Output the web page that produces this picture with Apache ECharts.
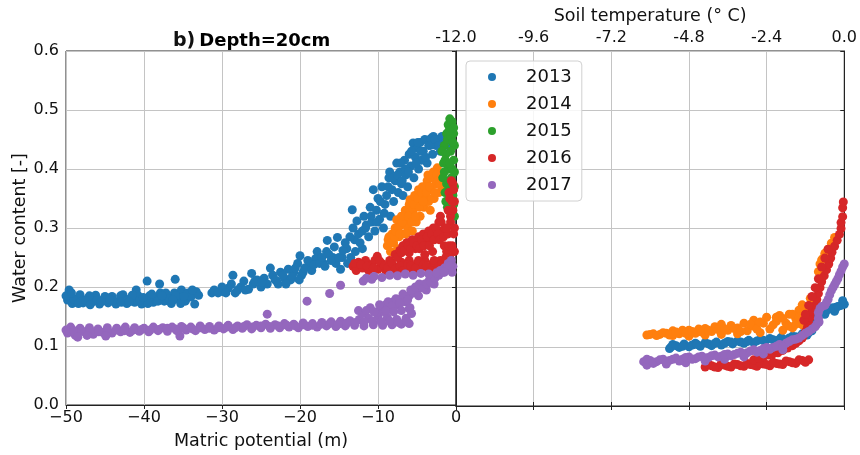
<!DOCTYPE html>
<html>
<head>
<meta charset="utf-8">
<script src="https://cdn.jsdelivr.net/npm/echarts@6/dist/echarts.min.js"></script>
<style>html,body{margin:0;padding:0;background:#fff}#c{width:860px;height:455px}</style>
</head>
<body>
<div id="c"></div>
<script>
const years = ['2013','2014','2015','2016','2017'];
const colors = ['#1f77b4','#ff7f0e','#2ca02c','#d62728','#9467bd'];
const mpTicks = [-50,-40,-30,-20,-10,0];
const stTicks = [-12.0,-9.6,-7.2,-4.8,-2.4,0.0];

// Left panel: matric potential (m) vs water content
const mp2013 = [[-49.8,0.178],[-49.5,0.186],[-49.6,0.195],[-49.2,0.172],[-48.6,0.18],[-48.2,0.187],[-47.8,0.173],[-47.2,0.181],[-46.6,0.175],[-46.2,0.186],[-45.7,0.171],[-45.2,0.179],[-44.6,0.173],[-44.1,0.184],[-43.6,0.171],[-43.1,0.178],[-42.7,0.187],[-42.2,0.172],[-41.7,0.18],[-41.2,0.174],[-41.0,0.195],[-40.8,0.186],[-40.3,0.171],[-39.8,0.179],[-39.6,0.21],[-39.3,0.185],[-38.8,0.174],[-38.4,0.182],[-38.0,0.205],[-37.9,0.19],[-37.4,0.176],[-37.0,0.184],[-36.5,0.172],[-36.0,0.213],[-36.1,0.19],[-35.6,0.18],[-35.2,0.195],[-34.7,0.176],[-34.4,0.19],[-34.0,0.183],[-33.5,0.171],[-33.3,0.192],[-33.0,0.186],
[-49.0,0.179],[-48.0,0.176],[-47.0,0.185],[-46.0,0.178],[-45.0,0.184],[-44.0,0.177],[-43.0,0.185],[-42.0,0.179],[-41.5,0.186],[-40.5,0.178],[-39.5,0.172],[-39.0,0.188],[-38.2,0.176],[-37.2,0.19],[-36.8,0.18],[-35.9,0.185],[-35.3,0.172],[-34.9,0.184],[-33.8,0.195],[-50.0,0.185],[-49.3,0.19],[-48.4,0.172],[-47.5,0.177],[-46.9,0.17],[-45.5,0.175],[-44.4,0.179],[-42.9,0.174],[-41.9,0.175],[-40.1,0.182],[-37.7,0.185],[-36.3,0.178],
[-31.3,0.19],[-31.0,0.195],[-29.8,0.192],[-29.2,0.198],[-28.8,0.205],[-28.6,0.22],[-28.3,0.19],[-27.6,0.2],[-27.2,0.21],[-26.6,0.196],[-26.2,0.223],[-26.0,0.205],[-25.5,0.212],[-25.0,0.2],[-24.6,0.215],[-24.2,0.205],[-23.8,0.232],[-23.5,0.22],[-23.0,0.21],[-22.5,0.225],[-22.0,0.215],[-21.5,0.23],[-21.2,0.212],[-20.8,0.225],[-20.3,0.24],[-20.0,0.253],[-19.8,0.22],
[-30.5,0.19],[-30.0,0.2],[-29.5,0.19],[-28.0,0.195],[-27.0,0.195],[-25.8,0.21],[-24.9,0.208],[-23.2,0.212],[-22.8,0.205],[-22.2,0.22],[-21.8,0.205],[-21.0,0.218],[-20.6,0.232],[-20.1,0.212],[-19.6,0.225],[-18.8,0.235],[-18.0,0.248],[-17.0,0.24],[-16.6,0.26],[-15.8,0.25],[-15.4,0.24],[-14.6,0.25],[-14.0,0.265],[-13.5,0.25],[-13.0,0.28],[-12.5,0.29],[-12.0,0.265],[-11.6,0.3],
[-19.4,0.232],[-19.0,0.245],[-18.5,0.228],[-18.2,0.238],[-17.8,0.26],[-17.5,0.24],[-17.2,0.25],[-16.8,0.235],[-16.5,0.279],[-16.3,0.255],[-16.0,0.245],[-15.6,0.268],[-15.2,0.284],[-15.0,0.25],[-14.8,0.23],[-14.5,0.262],[-14.2,0.275],[-13.9,0.24],[-13.6,0.285],[-13.3,0.331],[-13.2,0.30],[-12.9,0.26],[-12.7,0.312],
[-12.3,0.275],[-12.0,0.295],[-11.8,0.32],[-11.5,0.305],[-11.2,0.285],[-11.0,0.335],[-10.8,0.31],[-10.6,0.365],[-10.4,0.295],[-10.2,0.33],[-10.0,0.35],[-9.8,0.315],[-9.5,0.37],[-9.3,0.3],[-9.1,0.34],[-8.9,0.355],[-8.6,0.385],[-8.5,0.395],[-8.4,0.32],[-8.2,0.365],[-8.0,0.345],[-7.8,0.38],[-7.6,0.41],[-7.4,0.36],[-7.2,0.395],[-7.0,0.375],[-6.8,0.355],[-6.6,0.415],[-6.4,0.39],[-6.2,0.37],[-6.0,0.425],[-5.8,0.405],[-5.5,0.444],[-5.4,0.385],[-5.2,0.42],[-5.0,0.435],[-4.8,0.4],[-4.6,0.445],[-4.4,0.415],[-4.2,0.43],[-4.0,0.45],[-3.7,0.41],[-3.5,0.44],[-3.2,0.452],[-3.0,0.425],[-2.9,0.455],[-2.6,0.44],[-2.3,0.45],[-2.0,0.43],[-1.7,0.445],[-1.4,0.455],[-1.1,0.44],
[-10.9,0.32],[-10.1,0.31],[-9.7,0.345],[-9.2,0.325],[-8.7,0.37],[-8.1,0.385],[-7.5,0.39],[-7.1,0.41],[-6.9,0.38],[-6.5,0.4],[-6.1,0.395],[-5.7,0.43],[-5.1,0.41],[-4.9,0.445],[-4.5,0.43],[-3.9,0.42],[-3.3,0.44],[-2.7,0.45],[-2.2,0.44],[-1.8,0.455],[-1.3,0.445],[-0.9,0.45]];
const mp2014 = [[-8.8,0.27],[-8.6,0.285],[-8.4,0.26],[-8.2,0.29],[-8.0,0.275],[-7.8,0.3],[-7.6,0.314],[-7.5,0.265],[-7.3,0.285],[-7.1,0.305],[-7.0,0.32],[-6.8,0.29],[-6.6,0.31],[-6.5,0.33],[-6.3,0.275],[-6.2,0.3],[-6.0,0.34],[-5.9,0.348],[-5.8,0.32],[-5.6,0.295],[-5.5,0.33],[-5.3,0.355],[-5.1,0.31],[-5.0,0.34],[-4.8,0.365],[-4.6,0.32],[-4.5,0.35],[-4.3,0.37],[-4.1,0.335],[-3.9,0.355],[-3.7,0.38],[-3.5,0.345],[-3.3,0.33],[-3.2,0.365],[-3.0,0.385],[-2.8,0.35],[-2.6,0.375],[-2.4,0.402],[-2.2,0.36],[-2.0,0.39],[-1.8,0.37],[-1.7,0.38],
[-8.7,0.28],[-8.3,0.275],[-7.9,0.285],[-7.7,0.295],[-7.4,0.3],[-7.2,0.29],[-6.9,0.31],[-6.7,0.32],[-6.4,0.29],[-6.1,0.32],[-5.7,0.31],[-5.4,0.34],[-5.2,0.32],[-4.9,0.35],[-4.7,0.335],[-4.4,0.36],[-4.2,0.345],[-4.0,0.37],[-3.8,0.36],[-3.6,0.39],[-3.4,0.37],[-3.1,0.35],[-2.9,0.395],[-2.7,0.36],[-2.5,0.39],[-2.3,0.38],[-2.1,0.375],[-1.9,0.385]];
const mp2015 = [[-1.2,0.46],[-1.0,0.475],[-0.8,0.485],[-0.5,0.48],[-0.3,0.47],[-1.5,0.44],[-1.1,0.45],[-0.6,0.455],[-0.2,0.44],[-1.8,0.43],[-1.3,0.425],[-0.7,0.43],[-0.3,0.415],[-1.6,0.41],[-1.0,0.40],[-0.5,0.40],[-1.7,0.385],[-1.2,0.375],[-0.6,0.385],[-0.2,0.37],[-1.4,0.36],[-0.9,0.35],[-0.4,0.355],[-1.1,0.335],[-0.6,0.33],[-0.2,0.32],[-0.3,0.46],[-0.2,0.395],
[-0.9,0.465],[-0.4,0.445],[-1.4,0.415],[-0.8,0.41],[-1.5,0.395],[-0.9,0.37],[-0.3,0.34],[-1.3,0.345]];
const mp2016 = [[-13.2,0.235],[-12.8,0.228],[-12.5,0.242],[-12.0,0.232],[-11.6,0.245],[-11.2,0.228],[-10.8,0.238],[-10.4,0.245],[-10.1,0.252],[-10.0,0.23],[-9.5,0.24],[-9.0,0.228],[-8.5,0.245],[-8.0,0.235],[-7.5,0.225],[-7.0,0.242],[-6.5,0.232],[-6.0,0.245],[-5.5,0.228],[-5.0,0.24],[-4.5,0.232],[-4.0,0.245],[-3.5,0.23],[-3.0,0.24],[-2.5,0.228],[-2.0,0.245],[-1.5,0.235],[-1.0,0.24],
[-13.0,0.24],[-12.2,0.238],[-11.4,0.235],[-10.6,0.232],[-9.8,0.244],[-9.2,0.236],[-8.8,0.232],[-8.2,0.24],[-7.8,0.23],[-7.2,0.236],[-6.8,0.228],[-6.2,0.238],[-5.8,0.236],[-5.2,0.232],[-4.8,0.245],[-4.2,0.238],[-3.8,0.235],[-3.2,0.228],[-2.8,0.245],[-2.2,0.235],[-1.8,0.24],[-1.2,0.232],
[-7.8,0.255],[-7.2,0.262],[-6.8,0.27],[-6.3,0.275],[-6.0,0.258],[-5.6,0.28],[-5.2,0.265],[-4.8,0.285],[-4.5,0.27],[-4.2,0.29],[-3.8,0.275],[-3.5,0.295],[-3.2,0.28],[-2.9,0.3],[-2.5,0.285],[-2.2,0.31],[-2.0,0.32],[-1.8,0.295],[-1.5,0.27],[-1.2,0.26],[-4.0,0.255],[-3.0,0.26],
[-7.5,0.25],[-7.0,0.258],[-6.6,0.262],[-6.1,0.27],[-5.8,0.265],[-5.4,0.275],[-5.0,0.27],[-4.7,0.265],[-4.4,0.28],[-4.1,0.27],[-3.7,0.285],[-3.4,0.27],[-3.1,0.29],[-2.8,0.28],[-2.6,0.3],[-2.3,0.29],[-2.1,0.28],[-1.9,0.31],[-1.6,0.285],[-1.4,0.3],[-1.0,0.29],[-0.9,0.27],[-1.3,0.25],[-0.6,0.23],[-0.2,0.26],[-0.9,0.36],[-0.4,0.375],[-0.2,0.345],[-0.7,0.32],
[-0.8,0.25],[-0.5,0.27],[-0.3,0.29],[-0.7,0.31],[-0.4,0.33],[-0.8,0.35],[-0.3,0.365],[-0.6,0.38],[-0.2,0.3],[-1.2,0.3],[-1.0,0.33],[-0.5,0.345]];
const mp2017 = [[-49.8,0.122],[-48.8,0.118],[-47.6,0.124],[-46.5,0.12],[-45.3,0.123],[-44.1,0.122],[-43.0,0.124],[-41.8,0.123],[-40.6,0.125],[-39.4,0.124],[-38.2,0.126],[-37.0,0.125],[-35.4,0.117],[-35.8,0.126],[-34.6,0.127],[-33.4,0.126],[-32.2,0.128],[-31.0,0.127],[-29.8,0.129],[-28.6,0.128],[-27.4,0.13],[-26.2,0.129],[-25.0,0.131],[-23.8,0.13],[-22.6,0.131],[-21.4,0.132],[-20.2,0.131],[-19.0,0.133],[-17.8,0.132],[-16.6,0.134],[-15.4,0.133],[-14.2,0.134],[-13.0,0.135],[-11.8,0.134],[-10.6,0.136],[-9.4,0.135],[-8.2,0.136],[-7.0,0.137],[-6.0,0.138],
[-49.4,0.132],[-48.2,0.13],[-47.0,0.131],[-45.9,0.129],[-44.7,0.131],[-43.5,0.13],[-42.4,0.132],[-41.2,0.131],[-40.0,0.13],[-38.8,0.132],[-37.6,0.131],[-36.4,0.132],[-35.2,0.133],[-34.0,0.132],[-32.8,0.134],[-31.6,0.133],[-30.4,0.134],[-29.2,0.135],[-28.0,0.134],[-26.8,0.136],[-25.6,0.135],[-24.4,0.137],[-23.2,0.136],[-22.0,0.138],[-20.8,0.137],[-19.6,0.139],[-18.4,0.138],[-17.2,0.14],[-16.0,0.141],[-14.8,0.142],[-13.6,0.143],[-12.4,0.145],[-11.2,0.147],[-10.0,0.15],[-8.8,0.148],[-7.6,0.145],[-6.4,0.147],
[-50.0,0.127],[-49.0,0.126],[-48.0,0.125],[-46.9,0.126],[-45.8,0.124],[-44.7,0.126],[-43.6,0.127],[-42.5,0.126],[-41.4,0.127],[-40.3,0.128],[-39.2,0.127],[-38.1,0.128],[-37.0,0.13],[-36.0,0.129],[-34.9,0.13],[-33.8,0.129],[-32.7,0.131],[-31.6,0.13],[-30.5,0.131],[-29.4,0.132],[-28.3,0.131],[-27.2,0.133],[-26.1,0.132],[-25.0,0.134],[-23.9,0.133],[-22.8,0.134],[-21.7,0.135],[-20.6,0.134],[-19.5,0.136],[-18.4,0.135],[-17.3,0.137],[-16.2,0.138],[-15.1,0.137],[-14.0,0.139],[-12.9,0.14],[-11.8,0.141],[-10.7,0.142],[-9.6,0.141],[-8.5,0.142],[-7.4,0.14],[-6.3,0.141],[-48.5,0.115],[-47.3,0.118],[-44.9,0.117],
[-24.2,0.154],[-19.1,0.176],[-16.2,0.189],[-14.8,0.203],[-11.9,0.21],[-10.8,0.213],[-12.5,0.16],[-11.0,0.165],
[-10.0,0.158],[-9.5,0.165],[-9.0,0.17],[-8.5,0.162],[-8.0,0.175],[-7.5,0.17],[-7.0,0.18],[-6.5,0.175],[-6.0,0.185],[-5.9,0.165],[-5.7,0.155],[-5.5,0.19],[-5.0,0.195],[-4.5,0.2],[-4.0,0.205],[-3.5,0.21],[-3.0,0.215],[-2.5,0.22],[-2.0,0.228],[-1.5,0.232],[-1.0,0.24],[-0.6,0.245],[-0.4,0.235],[-4.8,0.185],[-3.8,0.195],[-2.8,0.205],
[-9.8,0.17],[-9.2,0.158],[-8.7,0.175],[-8.2,0.168],[-7.7,0.18],[-7.2,0.172],[-6.8,0.188],[-6.2,0.178],[-5.8,0.195],[-5.2,0.2],[-4.7,0.205],[-4.2,0.198],[-3.7,0.205],[-3.2,0.208],[-2.7,0.215],[-2.2,0.22],[-1.7,0.225],[-1.2,0.23],[-0.8,0.235],[-0.5,0.225],[-12.0,0.155],[-11.5,0.16],[-10.5,0.158],[-9.0,0.16],[-8.0,0.158],[-7.0,0.16],[-6.0,0.163],
[-11.5,0.215],[-10.5,0.218],[-9.5,0.216],[-8.5,0.22],[-7.5,0.219],[-6.5,0.222],[-5.5,0.22],[-4.5,0.223],[-3.5,0.222],[-2.5,0.224],[-1.5,0.225]];

// Right panel: soil temperature (°C) vs water content
const st2013 = [[-5.4,0.097],[-5.3,0.104],[-5.1,0.099],[-4.95,0.105],[-4.8,0.1],[-4.6,0.106],[-4.45,0.101],[-4.3,0.107],[-4.1,0.102],[-3.95,0.108],[-3.8,0.103],[-3.6,0.109],[-3.45,0.105],[-3.3,0.11],[-3.1,0.106],[-2.95,0.111],[-2.8,0.107],[-2.6,0.112],[-2.45,0.109],[-2.3,0.114],[-2.1,0.11],[-1.95,0.116],[-1.8,0.112],[-1.6,0.118],[-1.45,0.115],[-1.3,0.122],[-1.15,0.12],[-1.0,0.127],[-0.9,0.14],[-0.8,0.152],[-0.7,0.158],[-0.55,0.162],[-0.4,0.165],[-0.25,0.167],[-0.1,0.17],[0.0,0.172],[-0.6,0.155],[-0.3,0.16],[-0.05,0.178],
[-5.35,0.1],[-5.2,0.102],[-5.0,0.101],[-4.7,0.103],[-4.55,0.104],[-4.2,0.105],[-4.0,0.106],[-3.7,0.106],[-3.5,0.108],[-3.2,0.108],[-3.0,0.109],[-2.7,0.11],[-2.5,0.111],[-2.2,0.112],[-2.0,0.113],[-1.7,0.115],[-1.5,0.117],[-1.2,0.121],[-1.1,0.124],[-0.95,0.133],[-0.85,0.145],[-0.75,0.155],[-0.65,0.16],[-0.5,0.163],[-0.35,0.166],[-0.2,0.168]];
const st2014 = [[-6.1,0.12],[-5.9,0.122],[-5.7,0.121],[-5.5,0.123],[-5.3,0.119],[-5.3,0.127],[-5.1,0.122],[-5.0,0.128],[-4.8,0.118],[-4.8,0.128],[-4.6,0.123],[-4.5,0.13],[-4.3,0.12],[-4.3,0.131],[-4.1,0.126],[-4.0,0.134],[-3.8,0.121],[-3.8,0.138],[-3.6,0.128],[-3.5,0.136],[-3.3,0.122],[-3.3,0.132],[-3.1,0.14],[-3.0,0.127],[-2.8,0.135],[-2.8,0.145],[-2.6,0.124],[-2.5,0.14],[-2.4,0.15],[-2.3,0.13],[-2.1,0.143],[-2.0,0.153],[-1.9,0.128],[-1.8,0.14],[-1.7,0.155],[-1.6,0.132],[-1.5,0.148],[-1.4,0.162],[-1.3,0.137],[-1.3,0.171],[-1.2,0.155],[-1.05,0.182],
[-6.0,0.121],[-5.8,0.119],[-5.6,0.124],[-5.4,0.12],[-5.2,0.125],[-4.9,0.123],[-4.7,0.126],[-4.4,0.125],[-4.2,0.128],[-3.9,0.129],[-3.7,0.13],[-3.4,0.131],[-3.2,0.126],[-2.9,0.138],[-2.7,0.13],[-2.6,0.142],[-2.2,0.137],[-2.1,0.15],[-1.9,0.148],[-1.7,0.135],[-1.6,0.155],[-1.5,0.138],[-1.4,0.15],[-1.2,0.165],[-1.15,0.145],
[-0.8,0.227],[-0.75,0.24],[-0.7,0.247],[-0.65,0.25],[-0.6,0.258],[-0.55,0.26],[-0.5,0.265],[-0.4,0.275],[-0.3,0.285]];
const st2016 = [[-4.3,0.066],[-4.1,0.068],[-3.9,0.065],[-3.7,0.069],[-3.5,0.066],[-3.3,0.07],[-3.1,0.067],[-2.9,0.07],[-2.7,0.067],[-2.5,0.071],[-2.3,0.068],[-2.1,0.072],[-1.9,0.07],[-1.7,0.075],[-1.5,0.072],[-1.3,0.077],[-1.1,0.078],
[-4.2,0.071],[-4.0,0.066],[-3.8,0.072],[-3.6,0.067],[-3.4,0.071],[-3.2,0.068],[-3.0,0.072],[-2.8,0.069],[-2.6,0.073],[-2.4,0.07],[-2.2,0.074],[-2.0,0.071],[-1.8,0.076],[-1.6,0.073],[-1.4,0.078],[-1.2,0.074],
[-2.8,0.078],[-2.5,0.083],[-2.2,0.088],[-1.9,0.094],[-1.6,0.102],[-1.4,0.11],[-1.25,0.12],[-1.15,0.13],[-1.1,0.14],[-1.05,0.15],[-1.0,0.16],[-0.9,0.17],[-0.85,0.18],[-0.8,0.19],[-0.75,0.2],[-0.7,0.21],[-0.62,0.22],[-0.55,0.23],[-0.48,0.24],[-0.42,0.25],[-0.38,0.26],[-0.3,0.27],[-0.22,0.28],[-0.15,0.29],[-0.1,0.3],
[-2.65,0.081],[-2.35,0.086],[-2.05,0.09],[-1.75,0.098],[-1.5,0.106],[-1.3,0.115],[-1.2,0.125],[-1.13,0.135],
[-1.25,0.145],[-1.2,0.155],[-1.1,0.17],[-1.0,0.185],[-0.9,0.2],[-0.8,0.215],[-0.7,0.235],[-0.6,0.25],[-0.5,0.265],
[-0.1,0.31],[-0.05,0.32],[-0.05,0.335],[-0.03,0.345]];
const st2017 = [[-6.2,0.075],[-6.0,0.077],[-5.8,0.075],[-5.6,0.079],[-5.4,0.077],[-5.2,0.081],[-5.0,0.079],[-4.8,0.083],[-4.6,0.08],[-4.4,0.084],[-4.2,0.082],[-4.0,0.086],[-3.8,0.084],[-3.6,0.088],[-3.4,0.087],[-3.2,0.091],[-3.0,0.09],[-2.8,0.095],[-2.6,0.094],[-2.4,0.099],[-2.2,0.099],[-2.0,0.104],[-1.8,0.106],[-1.6,0.112],[-1.4,0.115],[-1.2,0.123],[-1.0,0.13],[-0.85,0.138],[-0.8,0.148],[-0.8,0.158],[-0.75,0.165],[-0.6,0.17],[-0.5,0.18],[-0.4,0.195],[-0.3,0.205],[-0.2,0.215],[-0.1,0.228],[0.0,0.24],[-0.05,0.235],
[-6.1,0.069],[-5.5,0.071],[-4.9,0.073],[-4.3,0.076],[-3.7,0.079],[-3.1,0.083],[-2.5,0.088],[-1.9,0.095],
[-6.1,0.079],[-5.9,0.072],[-5.7,0.078],[-5.5,0.075],[-5.3,0.079],[-5.1,0.076],[-4.9,0.082],[-4.7,0.079],[-4.5,0.083],[-4.3,0.081],[-4.1,0.085],[-3.9,0.083],[-3.7,0.087],[-3.5,0.085],[-3.3,0.089],[-3.1,0.088],[-2.9,0.093],[-2.7,0.091],[-2.5,0.097],[-2.3,0.096],[-2.1,0.101],[-1.9,0.1],[-1.7,0.109],[-1.5,0.113],[-1.3,0.119],[-1.1,0.126],[-0.9,0.134],[-0.78,0.142],[-0.7,0.168],[-0.55,0.175],[-0.45,0.188],[-0.35,0.2],[-0.25,0.21],[-0.15,0.222]];

const mpData = [mp2013, mp2014, mp2015, mp2016, mp2017];
const stData = [st2013, st2014, [], st2016, st2017];

const FONT = 'DejaVu Sans';
const chart = echarts.init(document.getElementById('c'), null, {renderer: 'canvas'});
const gridLine = {show: true, lineStyle: {color: '#c4c4c4', width: 1}};
const axLine = {show: true, lineStyle: {color: '#222', width: 1}};
const tick = {show: true, length: 4, lineStyle: {color: '#222'}};

const series = [];
years.forEach((y, i) => {
  series.push({name: y, type: 'scatter', xAxisIndex: 0, yAxisIndex: 0, data: mpData[i],
    symbolSize: 9, itemStyle: {color: colors[i], opacity: 1}, clip: true, silent: true});
});
years.forEach((y, i) => {
  series.push({name: y, type: 'scatter', xAxisIndex: 1, yAxisIndex: 1, data: stData[i],
    symbolSize: 9, itemStyle: {color: colors[i], opacity: 1}, clip: true, silent: true});
});

chart.setOption({
  animation: false,
  backgroundColor: '#fff',
  textStyle: {fontFamily: FONT},
  title: {
    text: '{a|b)}{b|Depth=20cm}', left: 168, top: 27,
    textStyle: {rich: {a: {fontFamily: FONT, fontWeight: 'bold', fontSize: 19, color: '#111', padding: [0, 4, 0, 0]},
                       b: {fontFamily: FONT, fontWeight: 'bold', fontSize: 18, color: '#000'}}}
  },
  legend: {
    data: years, orient: 'vertical', left: 466, top: 61, selectedMode: false,
    icon: 'circle', itemWidth: 8, itemHeight: 8, itemGap: 7,
    padding: [6, 10, 6, 22],
    borderColor: '#d0d0d0', borderWidth: 1, borderRadius: 4, backgroundColor: 'rgba(255,255,255,0.85)',
    textStyle: {fontFamily: FONT, fontSize: 18, color: '#111', lineHeight: 20, padding: [0, 0, 0, 25]}
  },
  grid: [
    {left: 66, right: 404, top: 51, bottom: 49, show: true, borderColor: '#222', borderWidth: 1},
    {left: 456, right: 14, top: 51, bottom: 49, show: true, borderColor: '#222', borderWidth: 1}
  ],
  xAxis: [
    {gridIndex: 0, type: 'value', min: -50, max: 0, interval: 10, position: 'bottom',
     name: 'Matric potential (m)', nameLocation: 'middle', nameGap: 27,
     nameTextStyle: {fontFamily: FONT, fontSize: 17.5, color: '#111'},
     axisLine: axLine, axisTick: tick, splitLine: gridLine,
     axisLabel: {fontFamily: FONT, fontSize: 16, color: '#111', margin: 5,
       formatter: v => v === 0 ? '0' : (v < 0 ? '\u2212' + Math.abs(v) : String(v))}},
    {gridIndex: 1, type: 'value', min: -12, max: 0, interval: 2.4, position: 'top',
     name: 'Soil temperature (\u00b0 C)', nameLocation: 'middle', nameGap: 22,
     nameTextStyle: {fontFamily: FONT, fontSize: 17.5, color: '#111'},
     axisLine: axLine, axisTick: tick, splitLine: gridLine,
     axisLabel: {fontFamily: FONT, fontSize: 16, color: '#111', margin: 5,
       formatter: v => v.toFixed(1)}},
    {gridIndex: 1, type: 'value', min: -12, max: 0, interval: 2.4, position: 'bottom',
     axisLine: axLine, axisTick: tick, splitLine: {show: false}, axisLabel: {show: false}}
  ],
  yAxis: [
    {gridIndex: 0, type: 'value', min: 0, max: 0.6, interval: 0.1,
     name: 'Water content [-]', nameLocation: 'middle', nameGap: 36, nameRotate: 90,
     nameTextStyle: {fontFamily: FONT, fontSize: 17.5, color: '#111'},
     axisLine: axLine, axisTick: tick, splitLine: gridLine,
     axisLabel: {fontFamily: FONT, fontSize: 16, color: '#111', margin: 7, formatter: v => v.toFixed(1)}},
    {gridIndex: 1, type: 'value', min: 0, max: 0.6, interval: 0.1,
     axisLine: axLine, axisTick: tick, splitLine: gridLine, axisLabel: {show: false}}
  ],
  series: series
});
</script>
</body>
</html>
